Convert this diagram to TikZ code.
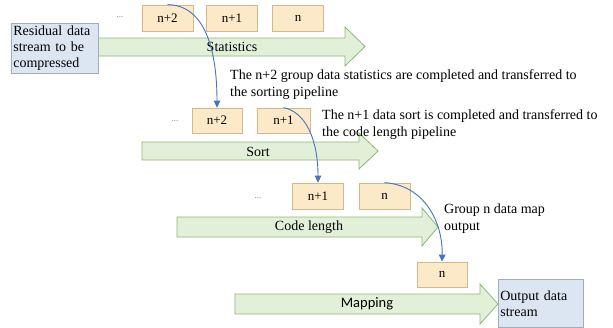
\documentclass[tikz,border=0pt]{standalone}
\usepackage{fontspec}
\setmainfont{Liberation Serif}
\newfontfamily\labelsans{Carlito}
\usetikzlibrary{arrows.meta}
\definecolor{groupfill}{HTML}{FCE9C8}
\definecolor{groupline}{HTML}{D2B88C}
\definecolor{pipefill}{HTML}{E2F0D9}
\definecolor{pipeline}{HTML}{8DB870}
\definecolor{streamfill}{HTML}{DCE6F2}
\definecolor{streamline}{HTML}{A3ADBA}
\definecolor{flowblue}{HTML}{4472C4}
\begin{document}
\begin{tikzpicture}[x=1pt,y=-1pt,
  group/.style={draw=groupline, fill=groupfill, line width=0.7pt,
    minimum width=51pt, minimum height=26pt, inner sep=0pt,
    font=\fontsize{13}{15}\selectfont},
  stream/.style={draw=streamline, fill=streamfill, line width=0.7pt,
    anchor=north west, align=left, inner xsep=2pt, inner ysep=1.5pt,
    font=\fontsize{14}{16}\selectfont},
  pipe/.style={draw=pipeline, fill=pipefill, line width=0.8pt},
  pipetext/.style={font=\fontsize{14}{16}\selectfont, inner sep=0pt},
  dots/.style={text=gray, font=\fontsize{9}{10}\selectfont, inner sep=0pt},
  note/.style={anchor=west, align=left, inner sep=0pt,
    font=\fontsize{14}{17}\selectfont},
  flow/.style={draw=flowblue, line width=0.9pt,
    -{Triangle[length=7pt,width=6.5pt]}}]
\path[use as bounding box] (0,0) rectangle (613,327);

% pipeline stages
\filldraw[pipe] (98,38) -- (345,38) -- (345,27) -- (365,46.5) -- (345,66)
  -- (345,56) -- (98,56) -- cycle;
\node[pipetext] (stat) at (232,47) {Statistics};

\filldraw[pipe] (142,142) -- (359,142) -- (359,133) -- (378,151) -- (359,169)
  -- (359,160) -- (142,160) -- cycle;
\node[pipetext] (sort) at (258,152) {Sort};

\filldraw[pipe] (177,217) -- (422,217) -- (422,208) -- (438,227) -- (422,246)
  -- (422,237) -- (177,237) -- cycle;
\node[pipetext] (clen) at (309,227) {Code length};

\filldraw[pipe] (235,294) -- (480,294) -- (480,284) -- (498,304) -- (480,324)
  -- (480,314) -- (235,314) -- cycle;
\node[pipetext, font=\labelsans\fontsize{14.5}{16}\selectfont] (map) at (367,304) {Mapping};

% input and output streams
\node[stream, text width=83pt, minimum height=50pt] (in) at (11,23)
  {Residual data\\stream to be\\compressed};
\node[stream, text width=81pt, minimum height=48pt] (out) at (498,279)
  {Output data\\stream};

% data groups
\node[dots] (d1) at (120,17) {...};
\node[group] (s2) at (167.5,18) {n+2};
\node[group] (s1) at (232,18) {n+1};
\node[group] (s0) at (298,18) {n};

\node[dots] (d2) at (175,121) {...};
\node[group, minimum height=25pt, minimum width=50pt] (o2) at (217,120.5) {n+2};
\node[group, minimum height=25pt, minimum width=53pt] (o1) at (283.5,120.5) {n+1};

\node[dots] (d3) at (258,198) {...};
\node[group] (c1) at (318,196) {n+1};
\node[group] (c0) at (384.5,196) {n};

\node[group, minimum height=25pt, minimum width=50pt] (m0) at (442,274.5) {n};

% hand-over between stages
\draw[flow] (s2.north) .. controls (205,5) and (217,50) .. (o2.north);
\draw[flow] (o1.north) .. controls (306,112) and (318,140) .. (c1.north);
\draw[flow] (c0.north) .. controls (424,185) and (443,222) .. (m0.north);

% notes
\node[note] (n1) at (230,84.5)
  {The n+2 group data statistics are completed and transferred to\\the sorting pipeline};
\node[note] (n2) at (322,125)
  {The n+1 data sort is completed and transferred to\\the code length pipeline};
\node[note] (n3) at (444,218.5) {Group n data map\\output};
\end{tikzpicture}
\end{document}
